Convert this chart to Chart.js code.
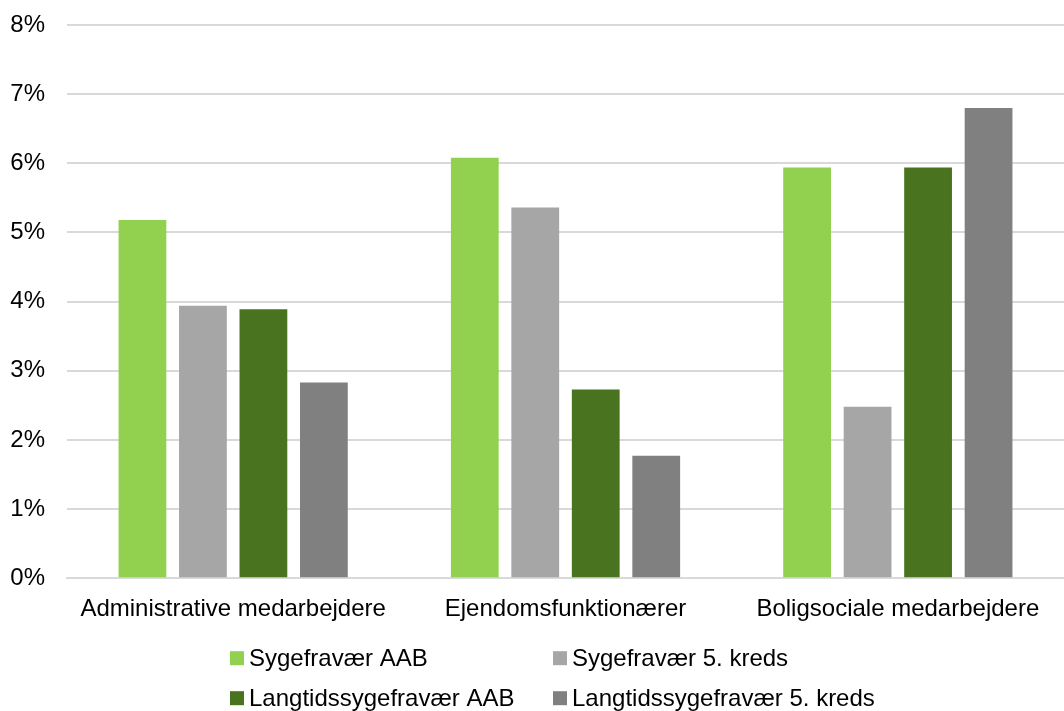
<!DOCTYPE html>
<html>
<head>
<meta charset="utf-8">
<script src="https://cdn.jsdelivr.net/npm/chart.js@4.4.0/dist/chart.umd.min.js"></script>
<style>
html,body{margin:0;padding:0;background:#fff;overflow:hidden;}
#wrap{position:relative;width:1064px;height:711px;}
</style>
</head>
<body>
<div id="wrap"><canvas id="c"></canvas></div>
<script>
const categories = ["Administrative medarbejdere", "Ejendomsfunktionærer", "Boligsociale medarbejdere"];
const seriesNames = ["Sygefravær AAB", "Sygefravær 5. kreds", "Langtidssygefravær AAB", "Langtidssygefravær 5. kreds"];
const sygefravaerAAB = [5.18, 6.08, 5.94];
const sygefravaer5kreds = [3.94, 5.36, 2.48];
const langtidsAAB = [3.89, 2.73, 5.94];
const langtids5kreds = [2.83, 1.77, 6.80];
const seriesColors = ["#92D050", "#A6A6A6", "#4A7320", "#808080"];
const yTicks = [0, 1, 2, 3, 4, 5, 6, 7, 8];

const FONT = "'Liberation Sans', Arial, sans-serif";
const values = [sygefravaerAAB, sygefravaer5kreds, langtidsAAB, langtids5kreds];

const legendPlugin = {
  id: 'gridLegend',
  afterDraw(chart) {
    const ctx = chart.ctx;
    ctx.save();
    ctx.font = "24px " + FONT;
    ctx.textBaseline = 'middle';
    ctx.textAlign = 'left';
    const colX = [230, 553];
    const rowY = [chart.chartArea.bottom + 80, chart.chartArea.bottom + 120];
    seriesNames.forEach((name, i) => {
      const x = colX[i % 2];
      const y = rowY[Math.floor(i / 2)];
      ctx.fillStyle = seriesColors[i];
      ctx.fillRect(x, y - 7, 14, 14);
      ctx.fillStyle = '#000';
      ctx.fillText(name, x + 19, y + 1);
    });
    ctx.restore();
  }
};

new Chart(document.getElementById('c'), {
  type: 'bar',
  data: {
    labels: categories,
    datasets: seriesNames.map((n, i) => ({
      label: n,
      data: values[i],
      backgroundColor: seriesColors[i],
      borderWidth: 0,
      categoryPercentage: 0.728,
      barPercentage: 0.79
    }))
  },
  options: {
    responsive: true,
    maintainAspectRatio: false,
    animation: false,
    layout: { padding: { top: 25, right: 0, bottom: 70, left: 0 } },
    plugins: {
      legend: { display: false },
      tooltip: { enabled: false }
    },
    scales: {
      x: {
        grid: { display: false, drawTicks: false },
        border: { display: true, color: '#d9d9d9', width: 2 },
        ticks: { color: '#000', font: { family: FONT, size: 24 }, padding: 17, maxRotation: 0, autoSkip: false }
      },
      y: {
        min: 0, max: 8,
        afterBuildTicks(scale) { scale.ticks = yTicks.map(v => ({ value: v })); },
        afterFit(scale) { scale.width = 67; scale.paddingTop = 0; scale.paddingBottom = 0; },
        grid: { color: '#d9d9d9', lineWidth: 2, drawTicks: false },
        border: { display: false },
        ticks: { color: '#000', font: { family: FONT, size: 24 }, padding: 22, callback: v => v + '%' }
      }
    }
  },
  plugins: [legendPlugin]
});
</script>
</body>
</html>
